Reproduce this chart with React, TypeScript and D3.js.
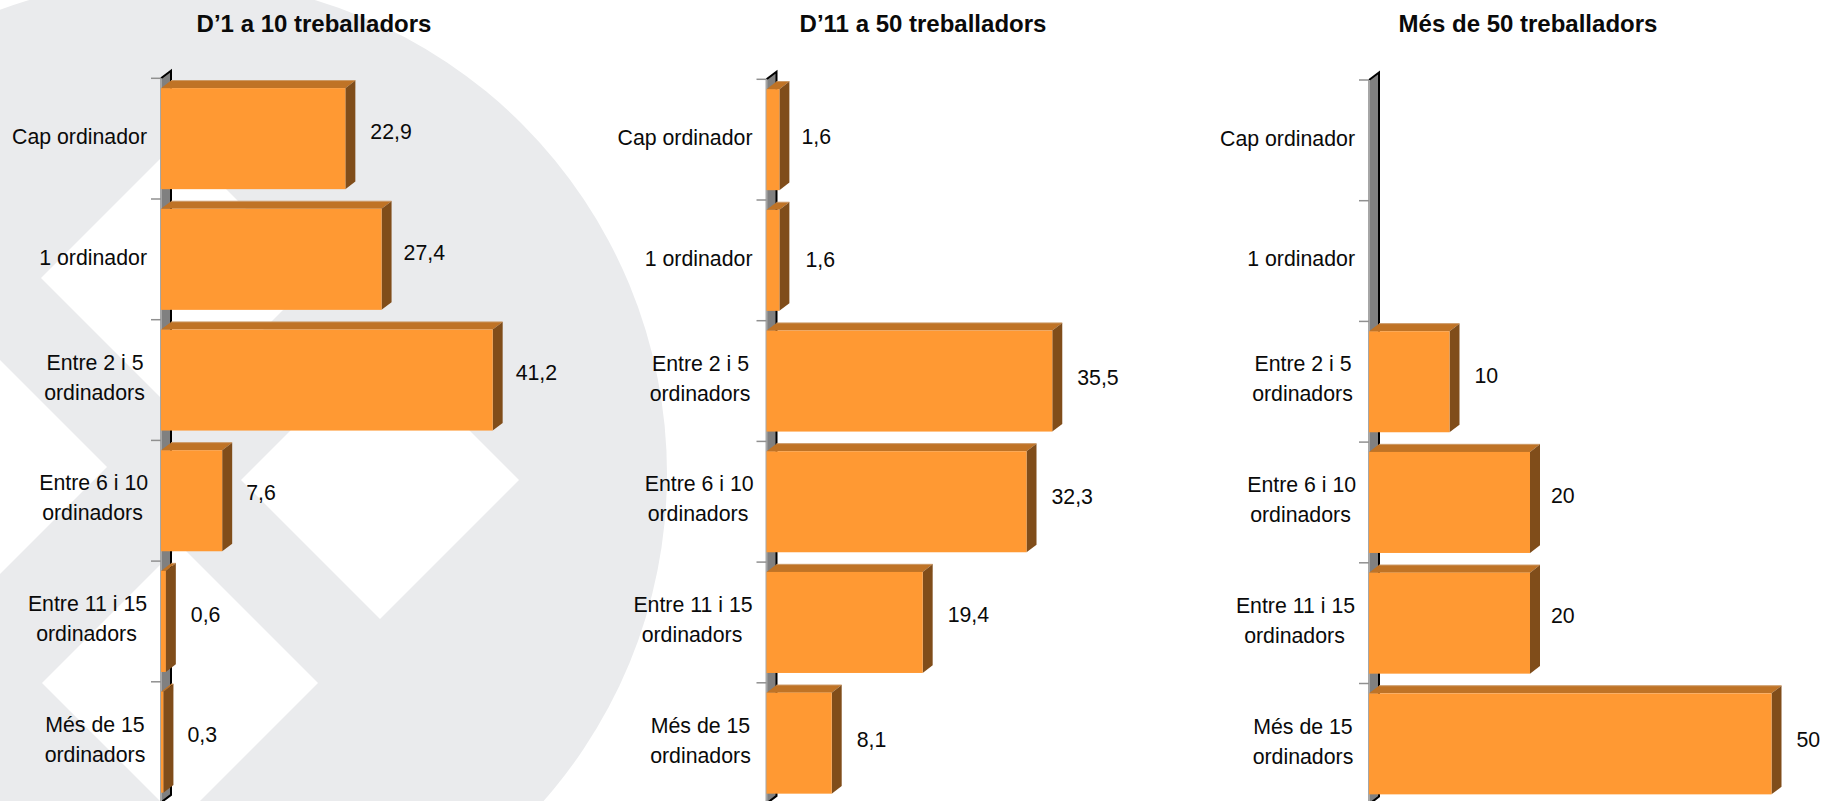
import React from 'react';
import * as d3 from 'd3';

const categories = ['Cap ordinador', '1 ordinador', 'Entre 2 i 5|ordinadors', 'Entre 6 i 10|ordinadors', 'Entre 11 i 15|ordinadors', 'Més de 15|ordinadors'];
const titles = ['D’1 a 10 treballadors', 'D’11 a 50 treballadors', 'Més de 50 treballadors'];
const small: (number | null)[] = [22.9, 27.4, 41.2, 7.6, 0.6, 0.3];
const medium: (number | null)[] = [1.6, 1.6, 35.5, 32.3, 19.4, 8.1];
const large: (number | null)[] = [null, null, 10, 20, 20, 50];
const valueSets = [small, medium, large];

const panels = [
  { axisX: 161, top: 78.3, titleX: 314, valueDy: [60.5, 61, 60, 60, 61, 60], valueDx: [15, 12, 13, 14, 15, 14] },
  { axisX: 766.5, top: 79.3, titleX: 923, valueDy: [65, 67, 64, 63, 60, 64], valueDx: [12, 16, 15, 15, 15, 15] },
  { axisX: 1369, top: 80, titleX: 1528, valueDy: [65, 65, 62, 61, 60, 63], valueDx: [13, 13, 15, 11, 11, 15] },
];
const labelCenter = [[0, 0], [0, 0], [-66, -66.5], [-67.3, -68.5], [-73.5, -74.5], [-66, -66]];
const DX = 10, DY = 7.6;
const STEP = 120.7;
const x = d3.scaleLinear().domain([0, 50]).range([0, 402.5]);
const fmt = (v: number) => String(v).replace('.', ',');
const poly = (pts: [number, number][]) => pts.map(p => p.join(',')).join(' ');

// watermark diamonds [cx, cy, half]
const diamonds: [number, number, number][] = [[178, 278, 137], [380, 480, 139], [180, 683, 138], [-30, 467, 137]];

function Panel({ i }: { i: number }) {
  const p = panels[i];
  const vals = valueSets[i];
  const y = d3.scaleBand<string>().domain(categories).range([p.top, p.top + STEP * 6]).paddingInner(0.163).paddingOuter(0.0815);
  const ticks = d3.range(7).map(k => p.top + STEP * k);
  const bottom = ticks[6];
  const x0 = p.axisX;
  return (
    <g>
      <text x={p.titleX} y={32} textAnchor="middle" fontWeight="bold" fontSize={24} fill="#0a0a0a">{titles[i]}</text>
      <polygon points={poly([[x0, p.top], [x0 + DX, p.top - DY], [x0 + DX, bottom - DY], [x0, bottom]])} fill="#808080" />
      <path d={`M${x0},${p.top}L${x0 + DX},${p.top - DY}V${bottom - DY}L${x0},${bottom}`} fill="none" stroke="#000" strokeWidth={2} />
      <line x1={x0} x2={x0} y1={p.top} y2={bottom} stroke="#a6a6a6" strokeWidth={2} />
      {ticks.slice(0, 6).map(t => <line key={t} x1={x0 - 10} x2={x0} y1={t} y2={t} stroke="#909090" strokeWidth={1.5} />)}
      {categories.map((c, k) => {
        const lines = c.split('|');
        const t = ticks[k];
        return (
          <text key={c} fontSize={21.3} fill="#0a0a0a" textAnchor={lines.length > 1 ? 'middle' : 'end'}>
            {lines.length === 1
              ? <tspan x={x0 - 14} y={t + 65.5}>{lines[0]}</tspan>
              : lines.map((l, j) => <tspan key={l} x={x0 + labelCenter[k][j]} y={t + 50 + 30 * j}>{l}</tspan>)}
          </text>
        );
      })}
      {categories.map((c, k) => {
        const v = vals[k];
        if (v == null) return null;
        const top = y(c)!;
        const h = y.bandwidth();
        const w = x(v);
        return (
          <g key={c}>
            <polygon points={poly([[x0, top], [x0 + DX, top - DY], [x0 + w + DX, top - DY], [x0 + w, top]])} fill="#BF7326" />
            <line x1={x0 + DX} x2={x0 + w + DX} y1={top - DY} y2={top - DY} stroke="#CC9966" strokeWidth={1} />
            <polygon points={poly([[x0 + w, top], [x0 + w + DX, top - DY], [x0 + w + DX, top + h - DY], [x0 + w, top + h]])} fill="#804D1A" />
            <rect x={x0} y={top} width={w} height={h} fill="#FF9933" />
            <text x={x0 + w + DX + p.valueDx[k]} y={ticks[k] + p.valueDy[k]} fontSize={21.3} fill="#0a0a0a">{fmt(v)}</text>
          </g>
        );
      })}
    </g>
  );
}

export default function App() {
  return (
    <svg width={1825} height={801} style={{ position: 'absolute', left: 0, top: 0, fontFamily: '"Liberation Sans", Arial, sans-serif' }}>
      <rect width={1825} height={801} fill="#fff" />
      <circle cx={172} cy={474} r={495} fill="#EAEBED" />
      {diamonds.map(([cx, cy, h]) => <polygon key={cx} points={poly([[cx - h, cy], [cx, cy - h], [cx + h, cy], [cx, cy + h]])} fill="#fff" />)}
      {panels.map((_, i) => <Panel key={i} i={i} />)}
    </svg>
  );
}
